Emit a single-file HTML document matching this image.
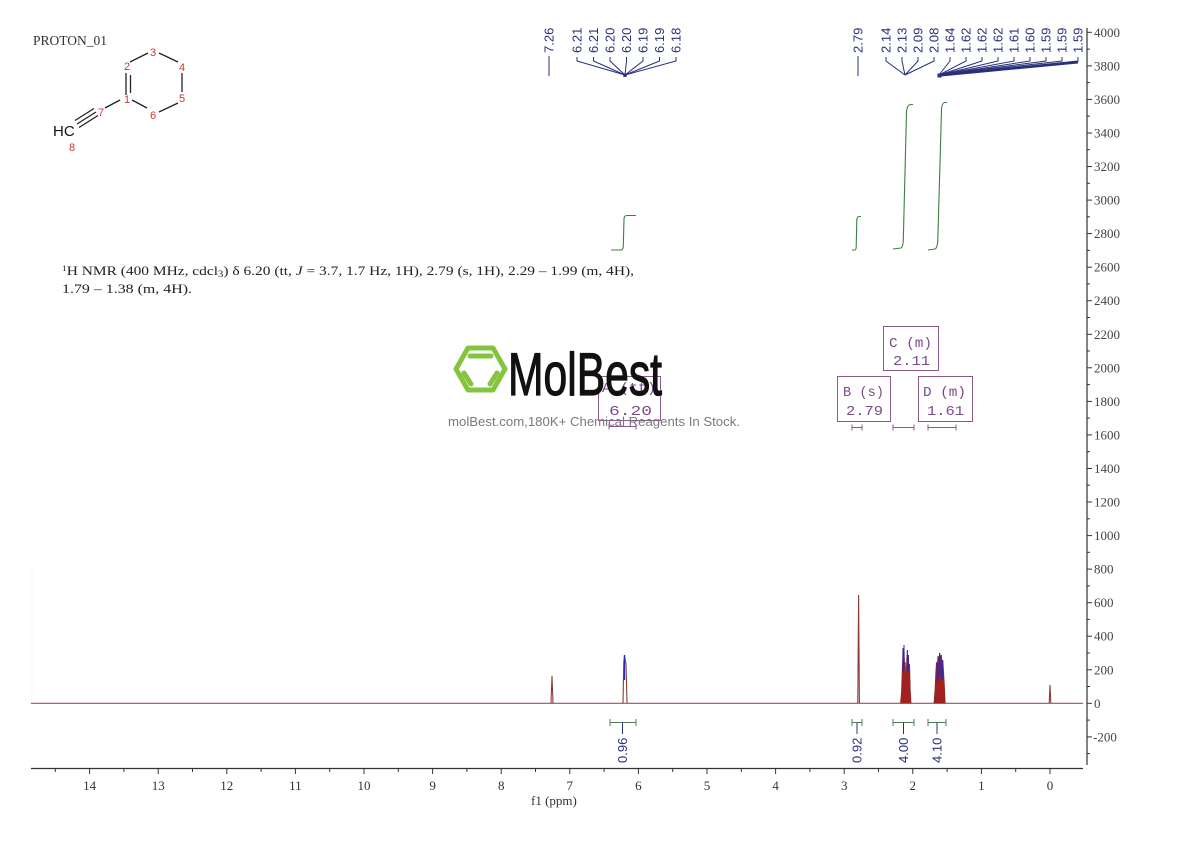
<!DOCTYPE html>
<html>
<head>
<meta charset="utf-8">
<style>
html,body{margin:0;padding:0;background:#fff;}
svg{display:block;}
.ser{font-family:"Liberation Serif","Noto Serif CJK SC",serif;}
.sans{font-family:"Liberation Sans",sans-serif;}
.mono{font-family:"Liberation Mono",monospace;}
</style>
</head>
<body>
<svg width="1190" height="841" viewBox="0 0 1190 841" xmlns="http://www.w3.org/2000/svg">
<rect width="1190" height="841" fill="#fff"/>

<!-- Title -->
<text class="ser" x="33" y="45" font-size="14" fill="#333" textLength="74" lengthAdjust="spacingAndGlyphs">PROTON_01</text>

<!-- Structure -->
<g stroke="#222" stroke-width="1.3" fill="none">
  <line x1="130" y1="62" x2="148" y2="53"/>
  <line x1="159" y1="53" x2="178" y2="62"/>
  <line x1="182" y1="73" x2="182" y2="92"/>
  <line x1="178" y1="103" x2="159" y2="112"/>
  <line x1="147" y1="108" x2="132" y2="100"/>
  <line x1="126" y1="73" x2="126" y2="95"/>
  <line x1="130.5" y1="75" x2="130.5" y2="93"/>
  <line x1="120" y1="100" x2="105" y2="108"/>
  <line x1="96" y1="112" x2="77" y2="124"/>
  <line x1="94" y1="108.5" x2="75" y2="120.5"/>
  <line x1="98" y1="115.5" x2="79" y2="127.5"/>
</g>
<g class="sans" font-size="11" fill="#c83737" text-anchor="middle">
  <text x="153" y="56">3</text>
  <text x="127" y="70">2</text>
  <text x="182" y="71">4</text>
  <text x="127" y="103">1</text>
  <text x="182" y="102">5</text>
  <text x="153" y="119">6</text>
  <text x="101" y="116">7</text>
  <text x="72" y="151">8</text>
</g>
<text class="sans" x="53" y="136" font-size="15" fill="#111">HC</text>

<!-- NMR description -->
<text class="ser" x="62" y="275" font-size="13" fill="#222" textLength="572" lengthAdjust="spacingAndGlyphs"><tspan font-size="8" dy="-4">1</tspan><tspan dy="4">H NMR (400 MHz, cdcl</tspan><tspan font-size="9" dy="2">3</tspan><tspan dy="-2">) δ 6.20 (tt, </tspan><tspan font-style="italic">J</tspan> = 3.7, 1.7 Hz, 1H), 2.79 (s, 1H), 2.29 – 1.99 (m, 4H),</text>
<text class="ser" x="62" y="293" font-size="13" fill="#222" textLength="130" lengthAdjust="spacingAndGlyphs">1.79 – 1.38 (m, 4H).</text>

<!-- Right axis -->
<g stroke="#333" stroke-width="1.2">
  <line x1="1087" y1="28" x2="1087" y2="765"/>
</g>
<g stroke="#333" stroke-width="1">
  <line x1="1087" y1="32.3" x2="1092" y2="32.3"/>
  <line x1="1087" y1="65.9" x2="1092" y2="65.9"/>
  <line x1="1087" y1="99.4" x2="1092" y2="99.4"/>
  <line x1="1087" y1="133" x2="1092" y2="133"/>
  <line x1="1087" y1="166.5" x2="1092" y2="166.5"/>
  <line x1="1087" y1="200.1" x2="1092" y2="200.1"/>
  <line x1="1087" y1="233.6" x2="1092" y2="233.6"/>
  <line x1="1087" y1="267.2" x2="1092" y2="267.2"/>
  <line x1="1087" y1="300.7" x2="1092" y2="300.7"/>
  <line x1="1087" y1="334.3" x2="1092" y2="334.3"/>
  <line x1="1087" y1="367.8" x2="1092" y2="367.8"/>
  <line x1="1087" y1="401.4" x2="1092" y2="401.4"/>
  <line x1="1087" y1="434.9" x2="1092" y2="434.9"/>
  <line x1="1087" y1="468.5" x2="1092" y2="468.5"/>
  <line x1="1087" y1="502" x2="1092" y2="502"/>
  <line x1="1087" y1="535.6" x2="1092" y2="535.6"/>
  <line x1="1087" y1="569.1" x2="1092" y2="569.1"/>
  <line x1="1087" y1="602.7" x2="1092" y2="602.7"/>
  <line x1="1087" y1="636.2" x2="1092" y2="636.2"/>
  <line x1="1087" y1="669.8" x2="1092" y2="669.8"/>
  <line x1="1087" y1="703.3" x2="1092" y2="703.3"/>
  <line x1="1087" y1="736.9" x2="1092" y2="736.9"/>
  <line x1="1087" y1="49.1" x2="1090" y2="49.1"/>
  <line x1="1087" y1="82.6" x2="1090" y2="82.6"/>
  <line x1="1087" y1="116.2" x2="1090" y2="116.2"/>
  <line x1="1087" y1="149.7" x2="1090" y2="149.7"/>
  <line x1="1087" y1="183.3" x2="1090" y2="183.3"/>
  <line x1="1087" y1="216.8" x2="1090" y2="216.8"/>
  <line x1="1087" y1="250.4" x2="1090" y2="250.4"/>
  <line x1="1087" y1="283.9" x2="1090" y2="283.9"/>
  <line x1="1087" y1="317.5" x2="1090" y2="317.5"/>
  <line x1="1087" y1="351" x2="1090" y2="351"/>
  <line x1="1087" y1="384.6" x2="1090" y2="384.6"/>
  <line x1="1087" y1="418.1" x2="1090" y2="418.1"/>
  <line x1="1087" y1="451.7" x2="1090" y2="451.7"/>
  <line x1="1087" y1="485.2" x2="1090" y2="485.2"/>
  <line x1="1087" y1="518.8" x2="1090" y2="518.8"/>
  <line x1="1087" y1="552.3" x2="1090" y2="552.3"/>
  <line x1="1087" y1="585.9" x2="1090" y2="585.9"/>
  <line x1="1087" y1="619.4" x2="1090" y2="619.4"/>
  <line x1="1087" y1="653" x2="1090" y2="653"/>
  <line x1="1087" y1="686.5" x2="1090" y2="686.5"/>
  <line x1="1087" y1="720.1" x2="1090" y2="720.1"/>
  <line x1="1087" y1="753.6" x2="1090" y2="753.6"/>
</g>
<g class="ser" font-size="13" fill="#444">
  <text x="1094" y="36.8">4000</text>
  <text x="1094" y="70.4">3800</text>
  <text x="1094" y="103.9">3600</text>
  <text x="1094" y="137.5">3400</text>
  <text x="1094" y="171">3200</text>
  <text x="1094" y="204.6">3000</text>
  <text x="1094" y="238.1">2800</text>
  <text x="1094" y="271.7">2600</text>
  <text x="1094" y="305.2">2400</text>
  <text x="1094" y="338.8">2200</text>
  <text x="1094" y="372.3">2000</text>
  <text x="1094" y="405.9">1800</text>
  <text x="1094" y="439.4">1600</text>
  <text x="1094" y="473">1400</text>
  <text x="1094" y="506.5">1200</text>
  <text x="1094" y="540.1">1000</text>
  <text x="1094" y="573.6">800</text>
  <text x="1094" y="607.2">600</text>
  <text x="1094" y="640.7">400</text>
  <text x="1094" y="674.3">200</text>
  <text x="1094" y="707.8">0</text>
  <text x="1093" y="741.4">-200</text>
</g>

<!-- Bottom axis -->
<line x1="31" y1="768.5" x2="1083" y2="768.5" stroke="#333" stroke-width="1.3"/>
<g stroke="#333" stroke-width="1">
  <line x1="1050" y1="768" x2="1050" y2="774"/>
  <line x1="981.4" y1="768" x2="981.4" y2="774"/>
  <line x1="912.8" y1="768" x2="912.8" y2="774"/>
  <line x1="844.2" y1="768" x2="844.2" y2="774"/>
  <line x1="775.6" y1="768" x2="775.6" y2="774"/>
  <line x1="707" y1="768" x2="707" y2="774"/>
  <line x1="638.4" y1="768" x2="638.4" y2="774"/>
  <line x1="569.8" y1="768" x2="569.8" y2="774"/>
  <line x1="501.2" y1="768" x2="501.2" y2="774"/>
  <line x1="432.6" y1="768" x2="432.6" y2="774"/>
  <line x1="364" y1="768" x2="364" y2="774"/>
  <line x1="295.4" y1="768" x2="295.4" y2="774"/>
  <line x1="226.8" y1="768" x2="226.8" y2="774"/>
  <line x1="158.2" y1="768" x2="158.2" y2="774"/>
  <line x1="89.6" y1="768" x2="89.6" y2="774"/>
  <line x1="1015.7" y1="768" x2="1015.7" y2="772"/>
  <line x1="947.1" y1="768" x2="947.1" y2="772"/>
  <line x1="878.5" y1="768" x2="878.5" y2="772"/>
  <line x1="809.9" y1="768" x2="809.9" y2="772"/>
  <line x1="741.3" y1="768" x2="741.3" y2="772"/>
  <line x1="672.7" y1="768" x2="672.7" y2="772"/>
  <line x1="604.1" y1="768" x2="604.1" y2="772"/>
  <line x1="535.5" y1="768" x2="535.5" y2="772"/>
  <line x1="466.9" y1="768" x2="466.9" y2="772"/>
  <line x1="398.3" y1="768" x2="398.3" y2="772"/>
  <line x1="329.7" y1="768" x2="329.7" y2="772"/>
  <line x1="261.1" y1="768" x2="261.1" y2="772"/>
  <line x1="192.5" y1="768" x2="192.5" y2="772"/>
  <line x1="123.9" y1="768" x2="123.9" y2="772"/>
  <line x1="55.3" y1="768" x2="55.3" y2="772"/>
</g>
<g class="ser" font-size="13" fill="#333" text-anchor="middle">
  <text x="1050" y="790">0</text>
  <text x="981.4" y="790">1</text>
  <text x="912.8" y="790">2</text>
  <text x="844.2" y="790">3</text>
  <text x="775.6" y="790">4</text>
  <text x="707" y="790">5</text>
  <text x="638.4" y="790">6</text>
  <text x="569.8" y="790">7</text>
  <text x="501.2" y="790">8</text>
  <text x="432.6" y="790">9</text>
  <text x="364" y="790">10</text>
  <text x="295.4" y="790">11</text>
  <text x="226.8" y="790">12</text>
  <text x="158.2" y="790">13</text>
  <text x="89.6" y="790">14</text>
</g>
<text class="ser" x="531" y="805" font-size="13" fill="#333">f1  (ppm)</text>

<!-- Spectrum -->
<g stroke="#8b3a3a" stroke-width="1.1" fill="none">
  <line x1="31" y1="703.3" x2="1083" y2="703.3" stroke="#9a5555"/>
  <path d="M551 703 L552 676 L553 703"/>
  <path d="M623 703 L623.8 662 L624.5 655 L625.2 660 L626 664 L627 703"/>
  <path d="M857.8 703 L858.6 595 L859.4 703"/>
  <path d="M32 703 L32 568"  stroke="#eee" stroke-width="0.6"/>
</g>
<path d="M900.5 703 L901.5 692 L902.3 668 L903 648 L903.5 660 L904 645 L904.6 668 L905.2 662 L905.7 680 L906.3 670 L906.8 658 L907.4 650 L907.9 666 L908.4 655 L909 672 L909.6 664 L910.2 688 L911 703 Z" fill="#a32020" stroke="#8b2a2a" stroke-width="0.8"/>
<g stroke="#2a2ab0" stroke-width="1">
  <line x1="903" y1="648" x2="903" y2="672"/>
  <line x1="904" y1="645" x2="904" y2="668"/>
  <line x1="907.4" y1="650" x2="907.4" y2="668"/>
  <line x1="908.4" y1="655" x2="908.4" y2="672"/>
  <line x1="902.3" y1="668" x2="910" y2="668" stroke-width="0.6"/>
</g>
<path d="M934 703 L935 690 L935.8 672 L936.5 662 L937.2 668 L938 656 L938.8 660 L939.6 653 L940.4 658 L941.2 655 L942 662 L942.8 660 L943.5 670 L944.3 684 L945.2 703 Z" fill="#a32020" stroke="#8b2a2a" stroke-width="0.8"/>
<g stroke="#2a2ab0" stroke-width="1.1">
  <line x1="937" y1="664" x2="937" y2="682"/>
  <line x1="938" y1="656" x2="938" y2="680"/>
  <line x1="939.6" y1="653" x2="939.6" y2="678"/>
  <line x1="941.2" y1="655" x2="941.2" y2="676"/>
  <line x1="942.6" y1="660" x2="942.6" y2="680"/>
</g>
<line x1="624.5" y1="655" x2="624.5" y2="680" stroke="#2a2ab0" stroke-width="1.2"/>
<path d="M1049.2 703 L1050 685 L1050.8 703" stroke="#8b3a3a" stroke-width="1.1" fill="none"/>

<!-- Integral curves -->
<g stroke="#3f7f3f" stroke-width="1.1" fill="none">
  <path d="M611 250 L621 250 Q623 250 623.3 246 L624 219 Q624.3 215.5 627 215.5 L636 215.5"/>
  <path d="M852 250 L855 250 Q856 250 856.2 247 L856.8 220 Q857 216.5 859 216.5 L861 216.5"/>
  <path d="M893 249 L901 248 Q903 247 903.3 240 L906.5 112 Q907 104.5 911 104.5 L913 104.5"/>
  <path d="M928 250 L935 249 Q937.5 248 937.8 240 L941.5 110 Q942 102.5 945 102.5 L947 102.5"/>
</g>

<!-- Integration brackets -->
<g stroke="#4f7f4f" stroke-width="1" fill="none">
  <path d="M610 722.5 H636 M610 719 V726 M636 719 V726"/>
  <path d="M852 722.5 H862 M852 719 V726 M862 719 V726"/>
  <path d="M893 722.5 H914 M893 719 V726 M914 719 V726"/>
  <path d="M928 722.5 H946 M928 719 V726 M946 719 V726"/>
</g>
<g stroke="#28307a" stroke-width="1">
  <line x1="622.5" y1="722.5" x2="622.5" y2="734"/>
  <line x1="857" y1="722.5" x2="857" y2="734"/>
  <line x1="903.5" y1="722.5" x2="903.5" y2="734"/>
  <line x1="937" y1="722.5" x2="937" y2="734"/>
</g>
<g class="sans" font-size="13" fill="#28307a">
  <text transform="translate(627,763) rotate(-90)">0.96</text>
  <text transform="translate(861.5,763) rotate(-90)">0.92</text>
  <text transform="translate(908,763) rotate(-90)">4.00</text>
  <text transform="translate(941.5,763) rotate(-90)">4.10</text>
</g>

<!-- Peak labels -->
<g class="sans" font-size="13" fill="#28307a">
  <text transform="translate(553.5,53) rotate(-90)">7.26</text>
  <text transform="translate(581.5,53) rotate(-90)">6.21</text>
  <text transform="translate(598,53) rotate(-90)">6.21</text>
  <text transform="translate(614.5,53) rotate(-90)">6.20</text>
  <text transform="translate(631,53) rotate(-90)">6.20</text>
  <text transform="translate(647.5,53) rotate(-90)">6.19</text>
  <text transform="translate(664,53) rotate(-90)">6.19</text>
  <text transform="translate(680.5,53) rotate(-90)">6.18</text>
  <text transform="translate(862.5,53) rotate(-90)">2.79</text>
  <text transform="translate(890.5,53) rotate(-90)">2.14</text>
  <text transform="translate(906.5,53) rotate(-90)">2.13</text>
  <text transform="translate(922.5,53) rotate(-90)">2.09</text>
  <text transform="translate(938.5,53) rotate(-90)">2.08</text>
  <text transform="translate(954.5,53) rotate(-90)">1.64</text>
  <text transform="translate(970.5,53) rotate(-90)">1.62</text>
  <text transform="translate(986.5,53) rotate(-90)">1.62</text>
  <text transform="translate(1002.5,53) rotate(-90)">1.62</text>
  <text transform="translate(1018.5,53) rotate(-90)">1.61</text>
  <text transform="translate(1034.5,53) rotate(-90)">1.60</text>
  <text transform="translate(1050.5,53) rotate(-90)">1.59</text>
  <text transform="translate(1066.5,53) rotate(-90)">1.59</text>
  <text transform="translate(1082.5,53) rotate(-90)">1.59</text>
</g>
<g stroke="#28307a" stroke-width="1" fill="none">
  <line x1="549" y1="56" x2="549" y2="76"/>
  <line x1="858" y1="56" x2="858" y2="76"/>
  <path d="M577 57 V61 L625 75"/>
  <path d="M593.5 57 V61 L625 75"/>
  <path d="M610 57 V61 L625 75"/>
  <path d="M626.5 57 V61 L625 75"/>
  <path d="M643 57 V61 L625 75"/>
  <path d="M659.5 57 V61 L625 75"/>
  <path d="M676 57 V61 L625 75"/>
  <path d="M886 57 V61 L905 75"/>
  <path d="M902 57 V61 L905 75"/>
  <path d="M918 57 V61 L905 75"/>
  <path d="M934 57 V61 L905 75"/>
  <path d="M950 57 V61 L939 75"/>
  <path d="M966 57 V61 L939 75"/>
  <path d="M982 57 V61 L939 75"/>
  <path d="M998 57 V61 L939 75"/>
  <path d="M1014 57 V61 L939 75"/>
  <path d="M1030 57 V61 L939 75"/>
  <path d="M1046 57 V61 L939 75"/>
  <path d="M1062 57 V61 L939 75"/>
  <path d="M1078 57 V61 L939 75"/>
</g>
<polygon points="939,75 1078,61 1078,63.5 941,76.5" fill="#28307a"/>
<rect x="623.3" y="73.5" width="3.4" height="3.4" fill="#28307a"/>
<rect x="937.5" y="73.5" width="4" height="4" fill="#28307a"/>

<!-- Multiplet boxes -->
<g stroke="#8a5a8a" stroke-width="1" fill="none">
  <rect x="598.5" y="376.5" width="62" height="44"/>
  <rect x="883.5" y="326.5" width="55" height="44"/>
  <rect x="837.5" y="376.5" width="53" height="45"/>
  <rect x="918.5" y="376.5" width="54" height="45"/>
  <path d="M609 426.5 H636 M609 423.5 V429.5 M636 423.5 V429.5"/>
  <path d="M852 427.5 H862 M852 424.5 V430.5 M862 424.5 V430.5"/>
  <path d="M893 427.5 H914 M893 424.5 V430.5 M914 424.5 V430.5"/>
  <path d="M928 427.5 H956 M928 424.5 V430.5 M956 424.5 V430.5"/>
</g>
<g class="mono" font-size="14" fill="#7a4a8a">
  <text x="602" y="392" textLength="54" lengthAdjust="spacingAndGlyphs">A (tt)</text>
  <text x="609" y="415" textLength="43" lengthAdjust="spacingAndGlyphs">6.20</text>
  <text x="889" y="347" textLength="43" lengthAdjust="spacingAndGlyphs">C (m)</text>
  <text x="893" y="365" textLength="37" lengthAdjust="spacingAndGlyphs">2.11</text>
  <text x="843" y="396" textLength="41" lengthAdjust="spacingAndGlyphs">B (s)</text>
  <text x="846" y="415" textLength="37" lengthAdjust="spacingAndGlyphs">2.79</text>
  <text x="923" y="396" textLength="43" lengthAdjust="spacingAndGlyphs">D (m)</text>
  <text x="927" y="415" textLength="37" lengthAdjust="spacingAndGlyphs">1.61</text>
</g>

<!-- Watermark -->
<g stroke="#86c440" stroke-width="5" fill="none" stroke-linejoin="round" stroke-linecap="round">
  <polygon points="456,369 468,348 493,348 505,369 493,390 468,390"/>
  <line x1="470" y1="356" x2="491" y2="356"/>
  <line x1="464" y1="373" x2="471" y2="384"/>
  <line x1="497" y1="373" x2="490" y2="384"/>
</g>
<text x="508" y="395" font-family="'Liberation Sans Narrow','Liberation Sans',sans-serif" font-size="60" fill="#111" stroke="#111" stroke-width="1.2" textLength="154" lengthAdjust="spacingAndGlyphs">MolBest</text>
<text class="sans" x="448" y="426" font-size="13" fill="#7a7a7a" textLength="292" lengthAdjust="spacingAndGlyphs">molBest.com,180K+ Chemical Reagents In Stock.</text>
</svg>
</body>
</html>
